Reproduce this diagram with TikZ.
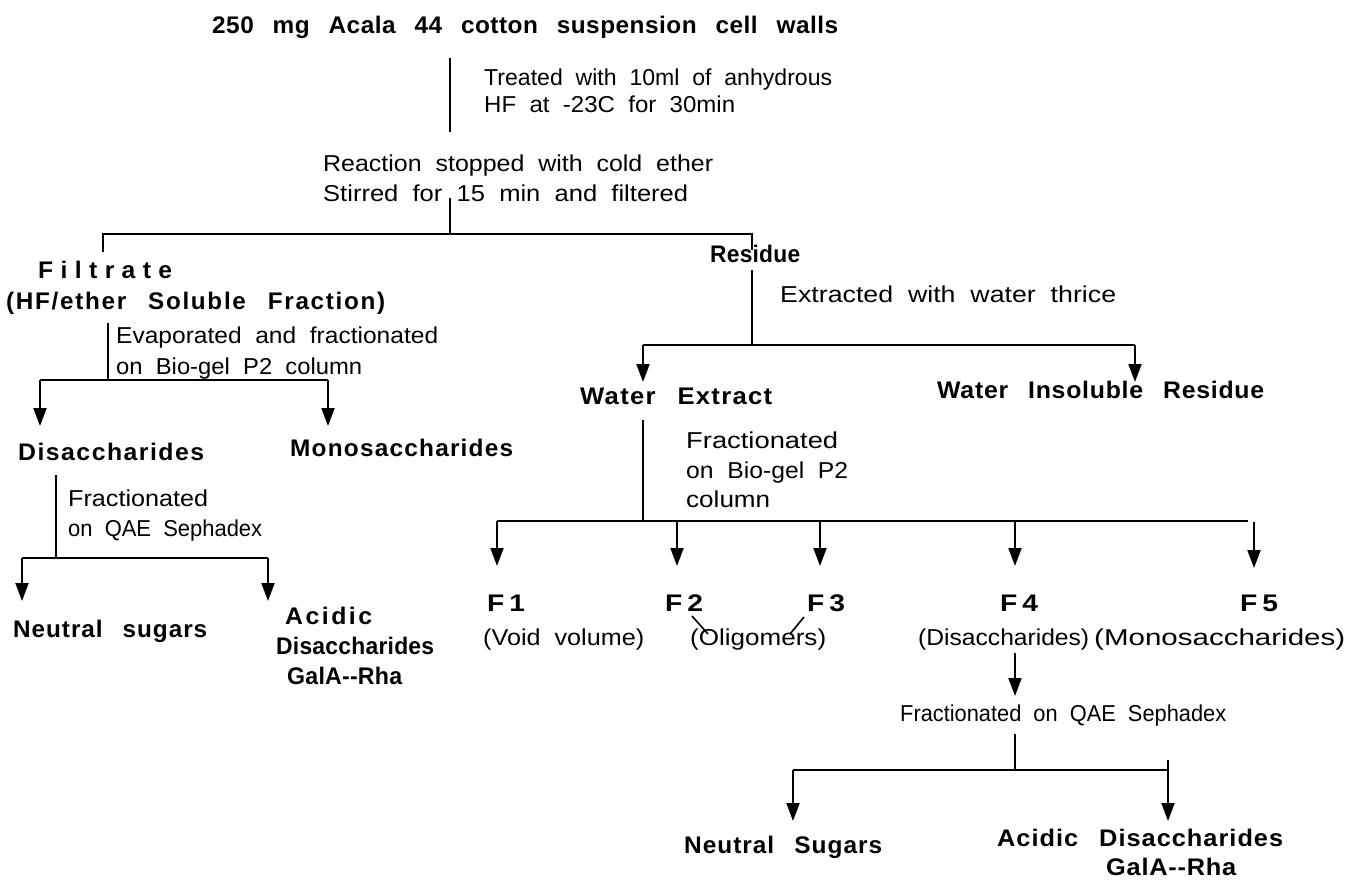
\documentclass[tikz,border=0pt]{standalone}
\usepackage{fontspec}
\usepackage{graphicx}
\setmainfont{Liberation Sans}
\newfontfamily\regf[WordSpace=2]{Liberation Sans}
\newfontfamily\boldf[WordSpace=2.6]{Liberation Sans Bold}
\usetikzlibrary{arrows.meta}
\newlength\fitlen
\newcommand\fitw[2]{\settowidth\fitlen{#2}\pgfmathsetmacro\fitsc{#1/\fitlen}\scalebox{\fitsc}[1]{#2}}
\newcommand\LS[1]{\addfontfeature{LetterSpace=#1}}
\tikzset{
  bl/.style={font=\boldf\fontsize{24}{24}\selectfont, anchor=base west, inner sep=0pt},
  rg/.style={font=\regf\fontsize{23}{23}\selectfont, anchor=base west, inner sep=0pt},
  ln/.style={line width=2pt},
  ar/.style={line width=2pt, -{Triangle[length=18pt,width=13pt]}},
  tk/.style={line width=1.6pt},
}
\begin{document}
\begin{tikzpicture}[x=1pt,y=-1pt]
\fill[white] (0,0) rectangle (1350,884);
\useasboundingbox (0,0) rectangle (1350,884);
% ---- bold labels
\node[bl] (t0) at (212,33) {\LS{2}\fitw{626}{250 mg Acala 44 cotton suspension cell walls}};
\node[bl] (filt) at (38,278) {\LS{30}\fitw{134}{Filtrate}};
\node[bl] (hfe) at (6,309) {\LS{7}\fitw{379}{(HF/ether Soluble Fraction)}};
\node[bl] (res) at (710,262) {\LS{1}\fitw{90}{Residue}};
\node[bl] (wex) at (580,404) {\LS{5}\fitw{192}{Water Extract}};
\node[bl] (wir) at (937,398) {\LS{3}\fitw{327}{Water Insoluble Residue}};
\node[bl] (disL) at (18,460) {\LS{6}\fitw{186}{Disaccharides}};
\node[bl] (mono) at (290,456) {\LS{5}\fitw{223}{Monosaccharides}};
\node[bl] (neuL) at (13,637) {\LS{4}\fitw{194}{Neutral sugars}};
\node[bl] (acL) at (285,624) {\LS{10}\fitw{87}{Acidic}};
\node[bl] (dis2L) at (276,654) {\LS{1}\fitw{158}{Disaccharides}};
\node[bl] (galL) at (287,684) {\LS{1}\fitw{115}{GalA--Rha}};
\node[bl] (f1) at (487,611) {\LS{18}\fitw{38}{F1}};
\node[bl] (f2) at (665,611) {\LS{18}\fitw{38}{F2}};
\node[bl] (f3) at (807,611) {\LS{18}\fitw{38}{F3}};
\node[bl] (f4) at (1000,611) {\LS{18}\fitw{38}{F4}};
\node[bl] (f5) at (1240,611) {\LS{18}\fitw{38}{F5}};
\node[bl] (neuB) at (684,853) {\LS{4}\fitw{198}{Neutral Sugars}};
\node[bl] (acB) at (997,846) {\LS{4}\fitw{286}{Acidic Disaccharides}};
\node[bl] (galB) at (1106,875) {\LS{3}\fitw{130}{GalA--Rha}};
% ---- regular labels
\node[rg] (tr1) at (484,85) {\fitw{348}{Treated with 10ml of anhydrous}};
\node[rg] (tr2) at (484,112) {\fitw{251}{HF at -23C for 30min}};
\node[rg] (re1) at (323,171) {\fitw{390}{Reaction stopped with cold ether}};
\node[rg] (re2) at (323,201) {\fitw{365}{Stirred for 15 min and filtered}};
\node[rg] (ev1) at (116,343) {\fitw{322}{Evaporated and fractionated}};
\node[rg] (ev2) at (116,374) {\fitw{246}{on Bio-gel P2 column}};
\node[rg] (frL1) at (68,506) {\fitw{140}{Fractionated}};
\node[rg] (frL2) at (68,536) {\fitw{194}{on QAE Sephadex}};
\node[rg] (ext) at (780,302) {\fitw{336}{Extracted with water thrice}};
\node[rg] (frR1) at (686,448) {\fitw{152}{Fractionated}};
\node[rg] (frR2) at (686,478) {\fitw{162}{on Bio-gel P2}};
\node[rg] (frR3) at (686,507) {\fitw{84}{column}};
\node[rg] (vv) at (483,645) {\fitw{161}{(Void volume)}};
\node[rg] (olig) at (690,645) {\fitw{136}{(Oligomers)}};
\node[rg] (dsc) at (918,645) {\fitw{171}{(Disaccharides)}};
\node[rg] (msc) at (1094,645) {\fitw{251}{(Monosaccharides)}};
\node[rg] (fq) at (900,721) {\fitw{326}{Fractionated on QAE Sephadex}};
% ---- junction coordinates
\coordinate (a1) at (450,58);  \coordinate (a2) at (450,132);
\coordinate (b1) at (450,198); \coordinate (b2) at (450,234);
\coordinate (bl) at (103,234); \coordinate (bl2) at (103,252);
\coordinate (br) at (752,234); \coordinate (br2) at (752,250);
\coordinate (c1) at (752,270); \coordinate (c2) at (752,345);
\coordinate (cl) at (643,345); \coordinate (cr) at (1135,345);
\coordinate (cl2) at (643,382); \coordinate (cr2) at (1135,382);
\coordinate (d1) at (108,323); \coordinate (d2) at (108,380);
\coordinate (dl) at (40,380);  \coordinate (dr) at (328,380);
\coordinate (dl2) at (40,426); \coordinate (dr2) at (328,426);
\coordinate (e1) at (56,475);  \coordinate (e2) at (56,558);
\coordinate (el) at (22,558);  \coordinate (er) at (268,558);
\coordinate (el2) at (22,601); \coordinate (er2) at (268,601);
\coordinate (g1) at (643,420); \coordinate (g2) at (643,521);
\coordinate (gl) at (497,521); \coordinate (gr) at (1248,521);
\coordinate (h1) at (497,566); \coordinate (h2) at (677,566);
\coordinate (h3) at (820,566); \coordinate (h4) at (1015,566);
\coordinate (h5t) at (1254,522); \coordinate (h5) at (1254,568);
\coordinate (k2a) at (692,616); \coordinate (k2b) at (708,634);
\coordinate (k3a) at (804,617); \coordinate (k3b) at (790,634);
\coordinate (m1) at (1015,653); \coordinate (m2) at (1015,696);
\coordinate (n1) at (1015,734); \coordinate (n2) at (1015,770);
\coordinate (nl) at (793,770);  \coordinate (nr) at (1168,770);
\coordinate (nrt) at (1168,760);
\coordinate (nl2) at (793,821); \coordinate (nr2) at (1168,821);
% ---- connectors
\draw[ln] (a1) -- (a2);
\draw[ln] (b1) -- (b2);
\draw[ln] (bl2) -- (bl) -- (br) -- (br2);
\draw[ln] (c1) -- (c2);
\draw[ln] (cl) -- (cr);
\draw[ar] (cl) -- (cl2);
\draw[ar] (cr) -- (cr2);
\draw[ln] (d1) -- (d2);
\draw[ln] (dl) -- (dr);
\draw[ar] (dl) -- (dl2);
\draw[ar] (dr) -- (dr2);
\draw[ln] (e1) -- (e2);
\draw[ln] (el) -- (er);
\draw[ar] (el) -- (el2);
\draw[ar] (er) -- (er2);
\draw[ln] (g1) -- (g2);
\draw[ln] (gl) -- (gr);
\draw[ar] (gl) -- (h1);
\draw[ar] (677,521) -- (h2);
\draw[ar] (820,521) -- (h3);
\draw[ar] (1015,521) -- (h4);
\draw[ar] (h5t) -- (h5);
\draw[tk] (k2a) -- (k2b);
\draw[tk] (k3a) -- (k3b);
\draw[ar] (m1) -- (m2);
\draw[ln] (n1) -- (n2);
\draw[ln] (nl) -- (nr);
\draw[ar] (nl) -- (nl2);
\draw[ar] (nrt) -- (nr2);
\end{tikzpicture}
\end{document}
